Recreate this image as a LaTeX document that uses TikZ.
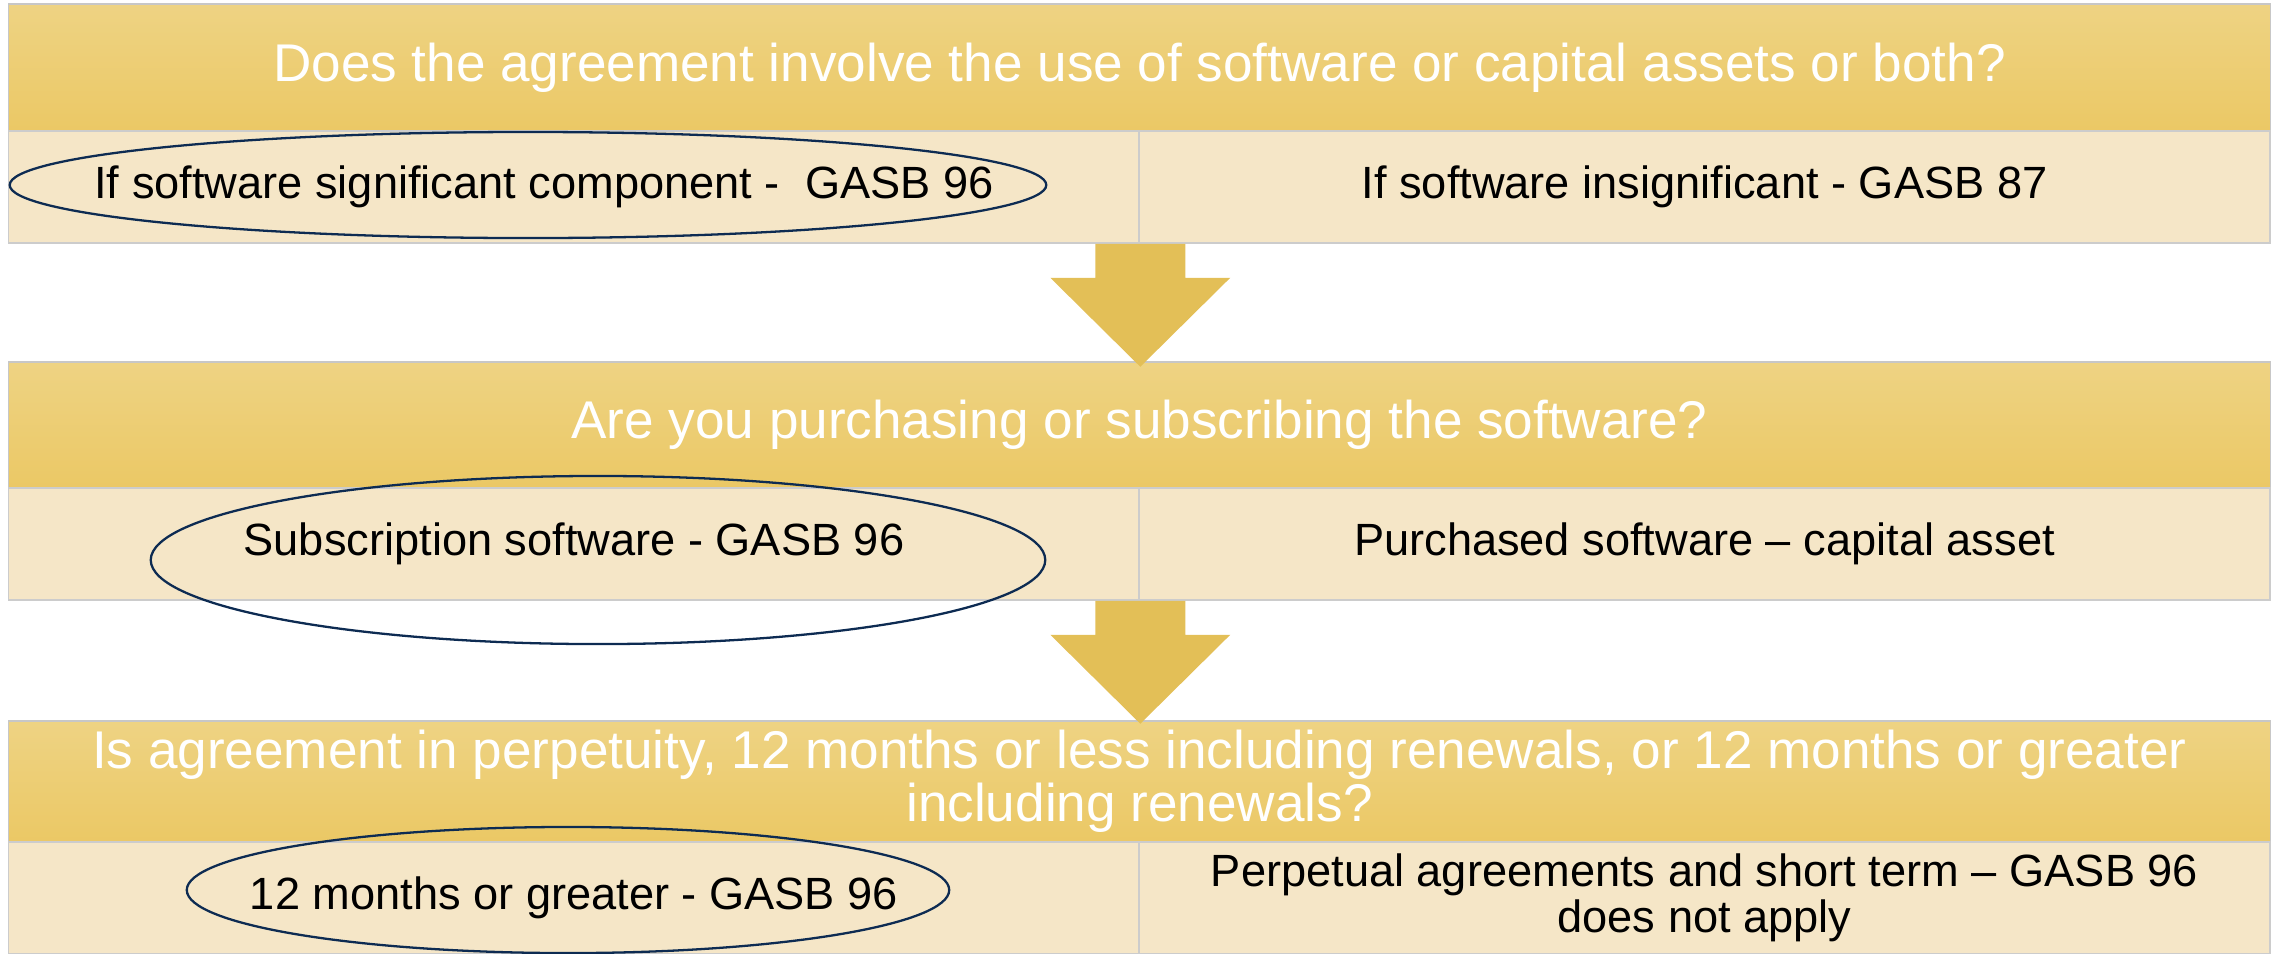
\documentclass[tikz,border=0pt]{standalone}
\usepackage{fontspec}
\setmainfont{Liberation Sans}
\usetikzlibrary{shapes.geometric}

\definecolor{gold}{HTML}{EBC865}
\definecolor{goldtop}{HTML}{EED383}
\definecolor{cream}{HTML}{F5E6C7}
\definecolor{navy}{HTML}{0D2B52}
\definecolor{arrowgold}{HTML}{E3BF57}

\tikzset{
  head/.style={draw=black!22, top color=goldtop, bottom color=gold, text=white,
    minimum width=22.61cm, inner sep=0pt, align=center,
    font=\fontsize{15.1}{15.1}\selectfont},
  cell/.style={draw=black!20, fill=cream, minimum width=11.305cm,
    minimum height=1.12cm, inner sep=0pt, align=center,
    font=\fontsize{12.85}{11.7}\selectfont},
  ring/.style={ellipse, draw=navy, line width=0.65pt, inner sep=0pt},
  darrow/.style={fill=arrowgold}
}

\begin{document}
\begin{tikzpicture}[x=0.01cm,y=-0.01cm]
\useasboundingbox (0,0) rectangle (2275,953);

% question 1
\node[head, minimum height=1.27cm] (Q1) at (1139.5,67.5)
  {Does the agreement involve the use of software or capital assets or both?};
\node[cell] (L1) at (574,187) {If software significant component -~ GASB 96\hspace*{0.6cm}};
\node[cell] (R1) at (1704.5,187) {If software insignificant - GASB 87};
\node[ring, minimum width=10.36cm, minimum height=1.06cm] (E1) at (528,185) {};

% question 2
\node[head, minimum height=1.26cm] (Q2) at (1139.5,425)
  {Are you purchasing or subscribing the software?};
\node[cell] (L2) at (574,544) {Subscription software - GASB 96};
\node[cell] (R2) at (1704.5,544) {Purchased software -- capital asset};
\node[ring, minimum width=8.94cm, minimum height=1.68cm] (E2) at (598,560) {};

% question 3
\node[head, minimum height=1.21cm] (Q3) at (1139.5,781.5)
  {Is agreement in perpetuity, 12 months or less including renewals, or 12 months or greater\\
   including renewals?};
\node[cell] (L3) at (574,898) {12 months or greater - GASB 96};
\node[cell] (R3) at (1704.5,898) {Perpetual agreements and short term -- GASB 96\\ does not apply};
\node[ring, minimum width=7.62cm, minimum height=1.26cm] (E3) at (568,890) {};

% down arrows
\fill[darrow, shift={(L1.south east)}] (-45,0) -- (45,0) -- (45,34) -- (90,34)
  -- (0,123) -- (-90,34) -- (-45,34) -- cycle;
\fill[darrow, shift={(L2.south east)}] (-45,0) -- (45,0) -- (45,34) -- (90,34)
  -- (0,123) -- (-90,34) -- (-45,34) -- cycle;
\end{tikzpicture}
\end{document}
